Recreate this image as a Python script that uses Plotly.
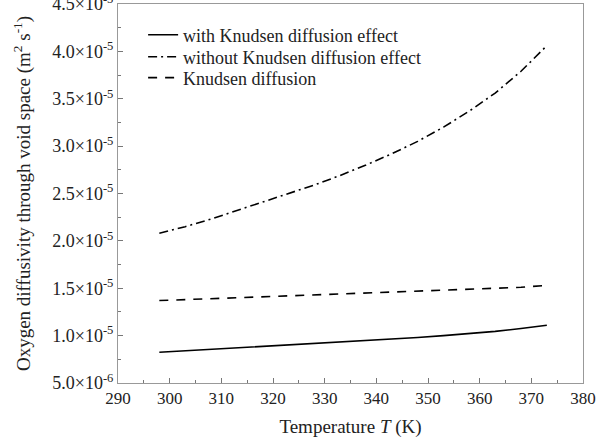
import plotly.graph_objects as go

temperature = [298, 303, 308, 313, 318, 323, 328, 333, 338, 343, 348, 353, 358, 363, 368, 373]
with_knudsen = [0.824, 0.84, 0.855, 0.87, 0.885, 0.90, 0.915, 0.93, 0.945, 0.96, 0.98, 1.00, 1.02, 1.045, 1.075, 1.11]
without_knudsen = [2.08, 2.15, 2.23, 2.32, 2.41, 2.50, 2.59, 2.69, 2.80, 2.92, 3.05, 3.20, 3.37, 3.56, 3.79, 4.06]
knudsen = [1.37, 1.38, 1.39, 1.40, 1.41, 1.42, 1.43, 1.44, 1.45, 1.46, 1.47, 1.48, 1.49, 1.50, 1.51, 1.53]
scale = 1e-5

y_tick_vals = [5e-6, 1.0e-5, 1.5e-5, 2.0e-5, 2.5e-5, 3.0e-5, 3.5e-5, 4.0e-5, 4.5e-5]
y_tick_text = ["5.0×10<sup>-6</sup>", "1.0×10<sup>-5</sup>", "1.5×10<sup>-5</sup>", "2.0×10<sup>-5</sup>",
               "2.5×10<sup>-5</sup>", "3.0×10<sup>-5</sup>", "3.5×10<sup>-5</sup>", "4.0×10<sup>-5</sup>",
               "4.5×10<sup>-5</sup>"]
x_tick_vals = [290, 300, 310, 320, 330, 340, 350, 360, 370, 380]

font = "Liberation Serif, Times New Roman, serif"
txt = "#222222"

fig = go.Figure()
fig.add_trace(go.Scatter(x=temperature, y=[v * scale for v in with_knudsen], mode="lines",
                         name="with Knudsen diffusion effect", legend="legend",
                         line=dict(color="black", width=1.6, dash="solid")))
fig.add_trace(go.Scatter(x=temperature, y=[v * scale for v in without_knudsen], mode="lines",
                         name="without Knudsen diffusion effect", legend="legend2",
                         line=dict(color="black", width=1.6, dash="9px,4px,2px,4px")))
fig.add_trace(go.Scatter(x=temperature, y=[v * scale for v in knudsen], mode="lines",
                         name="Knudsen diffusion", legend="legend3",
                         line=dict(color="black", width=1.6, dash="9px,8px")))

axis_common = dict(showline=True, linecolor="#999999", linewidth=1, mirror=True,
                   ticks="inside", ticklen=5, tickcolor="#777777", showgrid=False, zeroline=False,
                   automargin=False, ticklabeloverflow="allow")

fig.update_xaxes(range=[290, 380], tickvals=x_tick_vals,
                 tickfont=dict(family=font, size=17, color=txt),
                 minor=dict(ticks="inside", ticklen=3, dtick=5, tick0=290, tickcolor="#777777", showgrid=False),
                 title=dict(text="Temperature <i>T</i> (K)", font=dict(family=font, size=19, color=txt), standoff=12),
                 **axis_common)
fig.update_yaxes(range=[5e-6, 4.5e-5], tickvals=y_tick_vals, ticktext=y_tick_text,
                 tickfont=dict(family=font, size=18, color=txt),
                 minor=dict(ticks="inside", ticklen=3, dtick=2.5e-6, tick0=5e-6, tickcolor="#777777", showgrid=False),
                 title=dict(text="Oxygen diffusivity through void space (m<sup>2</sup> s<sup>-1</sup>)",
                            font=dict(family=font, size=19, color=txt), standoff=16),
                 **axis_common)

leg_common = dict(x=0.054, xanchor="left", yanchor="middle", bgcolor="rgba(0,0,0,0)",
                  font=dict(family=font, size=18, color=txt), itemwidth=30)

fig.update_layout(
    width=597, height=448,
    margin=dict(l=118, r=14, t=4, b=65),
    paper_bgcolor="white", plot_bgcolor="white",
    font=dict(family=font, color=txt),
    legend=dict(y=0.918, **leg_common),
    legend2=dict(y=0.860, **leg_common),
    legend3=dict(y=0.805, **leg_common),
    showlegend=True,
)

fig.write_html("out.html", post_script="document.body.style.margin='0';",
               config={"displayModeBar": False})
